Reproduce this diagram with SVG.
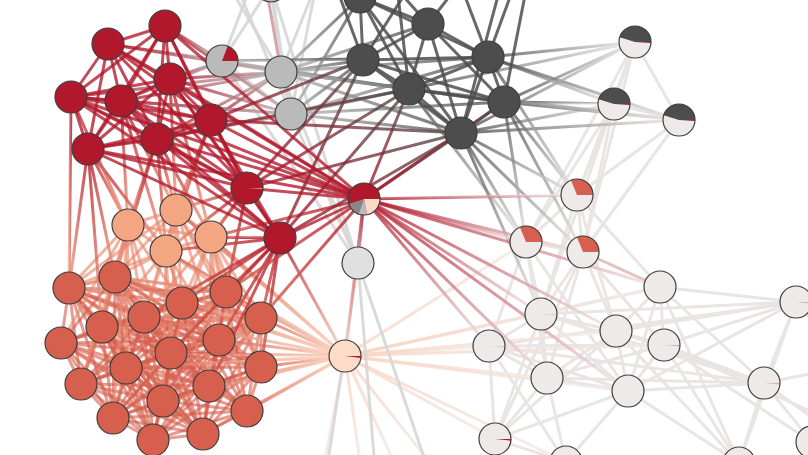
<svg xmlns="http://www.w3.org/2000/svg" xmlns:xlink="http://www.w3.org/1999/xlink" width="808" height="455" viewBox="0 0 808 455">
<style>
line{stroke-width:3;fill:none}
.rr{stroke:#b2182b;opacity:.78}
.cc{stroke:#d6604d;opacity:.62}
.ff{stroke:#ea8a70;opacity:.65}
.dd{stroke:#4d4d4d;opacity:.85}
.lg{stroke:#d6d6d6;opacity:.9}
.ww{stroke:#e9e5e4}
.pk{stroke:#e2c3c0}
.gx{opacity:.8}
.n{stroke:#3d3d3d;stroke-width:1.2}
.o{fill:none;stroke:#3d3d3d;stroke-width:1.2}
.red{fill:#b2182b}.cor{fill:#d6604d}.pea{fill:#f4a582}.lpe{fill:#fddbc7}
.lgr{fill:#e0e0e0}.gry{fill:#bababa}.drk{fill:#4d4d4d}.wht{fill:#eeeae9}
</style>
<defs>
<linearGradient id="rg"><stop offset="0" stop-color="#b2182b"/><stop offset="1" stop-color="#bababa"/></linearGradient>
<linearGradient id="rd"><stop offset="0" stop-color="#b2182b"/><stop offset="1" stop-color="#4d4d4d"/></linearGradient>
<linearGradient id="rw"><stop offset="0" stop-color="#b2182b"/><stop offset="1" stop-color="#efebea"/></linearGradient>
<linearGradient id="rp"><stop offset="0" stop-color="#b2182b"/><stop offset="1" stop-color="#fddbc7"/></linearGradient>
<linearGradient id="rc"><stop offset="0" stop-color="#b2182b"/><stop offset="1" stop-color="#d6604d"/></linearGradient>
<linearGradient id="fr"><stop offset="0" stop-color="#f4a582"/><stop offset="1" stop-color="#b2182b"/></linearGradient>
<linearGradient id="cl"><stop offset="0" stop-color="#d6604d"/><stop offset="1" stop-color="#fddbc7"/></linearGradient>
<linearGradient id="lw"><stop offset="0" stop-color="#fbd3bf"/><stop offset="1" stop-color="#efebea"/></linearGradient>
<linearGradient id="dw"><stop offset="0" stop-color="#4d4d4d"/><stop offset="1" stop-color="#efebea"/></linearGradient>
<linearGradient id="gd"><stop offset="0" stop-color="#bababa"/><stop offset="1" stop-color="#4d4d4d"/></linearGradient>
<linearGradient id="rga" xlink:href="#rg" x1="0" y1="0" x2="1" y2="1"/><linearGradient id="rgb" xlink:href="#rg" x1="0" y1="1" x2="1" y2="0"/><linearGradient id="rgc" xlink:href="#rg" x1="1" y1="0" x2="0" y2="1"/><linearGradient id="rgd" xlink:href="#rg" x1="1" y1="1" x2="0" y2="0"/>
<linearGradient id="rda" xlink:href="#rd" x1="0" y1="0" x2="1" y2="1"/><linearGradient id="rdb" xlink:href="#rd" x1="0" y1="1" x2="1" y2="0"/>
<linearGradient id="rwa" xlink:href="#rw" x1="0" y1="0" x2="1" y2="1"/><linearGradient id="rwb" xlink:href="#rw" x1="0" y1="1" x2="1" y2="0"/>
<linearGradient id="rpa" xlink:href="#rp" x1="0" y1="0" x2="1" y2="1"/><linearGradient id="rpc" xlink:href="#rp" x1="1" y1="0" x2="0" y2="1"/>
<linearGradient id="rcc" xlink:href="#rc" x1="1" y1="0" x2="0" y2="1"/><linearGradient id="rcd" xlink:href="#rc" x1="1" y1="1" x2="0" y2="0"/>
<linearGradient id="frb" xlink:href="#fr" x1="0" y1="1" x2="1" y2="0"/><linearGradient id="frd" xlink:href="#fr" x1="1" y1="1" x2="0" y2="0"/>
<linearGradient id="cla" xlink:href="#cl" x1="0" y1="0" x2="1" y2="1"/><linearGradient id="clb" xlink:href="#cl" x1="0" y1="1" x2="1" y2="0"/>
<linearGradient id="lwa" xlink:href="#lw" x1="0" y1="0" x2="1" y2="1"/><linearGradient id="lwb" xlink:href="#lw" x1="0" y1="1" x2="1" y2="0"/><linearGradient id="lwc" xlink:href="#lw" x1="1" y1="0" x2="0" y2="1"/>
<linearGradient id="dwa" xlink:href="#dw" x1="0" y1="0" x2="1" y2="1"/><linearGradient id="dwb" xlink:href="#dw" x1="0" y1="1" x2="1" y2="0"/>
<linearGradient id="gda" xlink:href="#gd" x1="0" y1="0" x2="1" y2="1"/><linearGradient id="gdb" xlink:href="#gd" x1="0" y1="1" x2="1" y2="0"/>
</defs>
<rect width="808" height="455" fill="#ffffff"/>
<g id="connectors">
<g id="e-white">
<line class="ww" x1="635" y1="42" x2="679" y2="120"/><line class="ww" x1="614" y1="104" x2="679" y2="120"/>
<line class="ww" x1="635" y1="42" x2="577" y2="195"/><line class="ww" x1="635" y1="42" x2="526" y2="242"/><line class="ww" x1="635" y1="42" x2="583" y2="252"/>
<line class="ww" x1="614" y1="104" x2="577" y2="195"/><line class="ww" x1="614" y1="104" x2="526" y2="242"/><line class="ww" x1="614" y1="104" x2="583" y2="252"/>
<line class="ww" x1="679" y1="120" x2="577" y2="195"/><line class="ww" x1="679" y1="120" x2="583" y2="252"/><line class="ww" x1="635" y1="42" x2="541" y2="314"/>
<line class="ww" x1="577" y1="195" x2="526" y2="242"/><line class="ww" x1="577" y1="195" x2="583" y2="252"/><line class="ww" x1="526" y1="242" x2="583" y2="252"/>
<line class="ww" x1="577" y1="195" x2="541" y2="314"/><line class="ww" x1="577" y1="195" x2="616" y2="331"/><line class="ww" x1="577" y1="195" x2="660" y2="287"/>
<line class="ww" x1="526" y1="242" x2="541" y2="314"/><line class="ww" x1="526" y1="242" x2="489" y2="346"/><line class="ww" x1="526" y1="242" x2="547" y2="378"/><line class="ww" x1="526" y1="242" x2="628" y2="391"/>
<line class="ww" x1="583" y1="252" x2="541" y2="314"/><line class="ww" x1="583" y1="252" x2="616" y2="331"/><line class="ww" x1="583" y1="252" x2="547" y2="378"/><line class="ww" x1="583" y1="252" x2="664" y2="345"/><line class="ww" x1="583" y1="252" x2="495" y2="439"/>
<line class="ww" x1="660" y1="287" x2="796" y2="302"/><line class="ww" x1="660" y1="287" x2="616" y2="331"/><line class="ww" x1="660" y1="287" x2="664" y2="345"/><line class="ww" x1="660" y1="287" x2="628" y2="391"/><line class="ww" x1="660" y1="287" x2="764" y2="383"/><line class="ww" x1="660" y1="287" x2="541" y2="314"/><line class="ww" x1="660" y1="287" x2="739" y2="463"/>
<line class="ww" x1="796" y1="302" x2="541" y2="314"/><line class="ww" x1="796" y1="302" x2="616" y2="331"/><line class="ww" x1="796" y1="302" x2="664" y2="345"/><line class="ww" x1="796" y1="302" x2="489" y2="346"/><line class="ww" x1="796" y1="302" x2="764" y2="383"/><line class="ww" x1="796" y1="302" x2="628" y2="391"/><line class="ww" x1="796" y1="302" x2="739" y2="463"/>
<line class="ww" x1="541" y1="314" x2="489" y2="346"/><line class="ww" x1="541" y1="314" x2="616" y2="331"/><line class="ww" x1="541" y1="314" x2="547" y2="378"/><line class="ww" x1="541" y1="314" x2="628" y2="391"/><line class="ww" x1="541" y1="314" x2="495" y2="439"/><line class="ww" x1="541" y1="314" x2="764" y2="383"/>
<line class="ww" x1="489" y1="346" x2="547" y2="378"/><line class="ww" x1="489" y1="346" x2="495" y2="439"/><line class="ww" x1="489" y1="346" x2="566" y2="462"/><line class="ww" x1="489" y1="346" x2="664" y2="345"/><line class="ww" x1="489" y1="346" x2="764" y2="383"/><line class="ww" x1="489" y1="346" x2="628" y2="391"/>
<line class="ww" x1="616" y1="331" x2="664" y2="345"/><line class="ww" x1="616" y1="331" x2="628" y2="391"/><line class="ww" x1="616" y1="331" x2="764" y2="383"/><line class="ww" x1="616" y1="331" x2="547" y2="378"/><line class="ww" x1="616" y1="331" x2="739" y2="463"/><line class="ww" x1="616" y1="331" x2="495" y2="439"/>
<line class="ww" x1="664" y1="345" x2="628" y2="391"/><line class="ww" x1="664" y1="345" x2="764" y2="383"/><line class="ww" x1="664" y1="345" x2="739" y2="463"/><line class="ww" x1="664" y1="345" x2="812" y2="442"/><line class="ww" x1="664" y1="345" x2="547" y2="378"/>
<line class="ww" x1="547" y1="378" x2="628" y2="391"/><line class="ww" x1="547" y1="378" x2="495" y2="439"/><line class="ww" x1="547" y1="378" x2="566" y2="462"/><line class="ww" x1="547" y1="378" x2="764" y2="383"/>
<line class="ww" x1="628" y1="391" x2="764" y2="383"/><line class="ww" x1="628" y1="391" x2="739" y2="463"/><line class="ww" x1="628" y1="391" x2="566" y2="462"/><line class="ww" x1="628" y1="391" x2="495" y2="439"/>
<line class="ww" x1="764" y1="383" x2="739" y2="463"/><line class="ww" x1="764" y1="383" x2="812" y2="442"/><line class="ww" x1="495" y1="439" x2="566" y2="462"/>
<line class="ww" x1="796" y1="302" x2="830" y2="285"/><line class="ww" x1="796" y1="302" x2="830" y2="340"/><line class="ww" x1="764" y1="383" x2="830" y2="370"/><line class="ww" x1="764" y1="383" x2="830" y2="430"/><line class="ww" x1="739" y1="463" x2="830" y2="480"/><line class="ww" x1="664" y1="345" x2="830" y2="420"/>
<line class="pk" x1="583" y1="252" x2="660" y2="287"/>
</g>
<g id="e-lightpeach">
<line class="gx" stroke="url(#lwb)" x1="345" y1="356" x2="489" y2="346"/><line class="gx" stroke="url(#lwb)" x1="345" y1="356" x2="541" y2="314"/><line class="gx" stroke="url(#lwa)" x1="345" y1="356" x2="547" y2="378"/>
<line class="gx" stroke="url(#lwa)" x1="345" y1="356" x2="495" y2="439"/><line class="gx" stroke="url(#lwb)" x1="345" y1="356" x2="616" y2="331"/><line class="gx" stroke="url(#lwb)" x1="345" y1="356" x2="526" y2="242"/>
<line class="gx" stroke="url(#lwb)" x1="345" y1="356" x2="660" y2="287"/><line class="gx" stroke="url(#lwa)" x1="345" y1="356" x2="628" y2="391"/><line class="gx" stroke="url(#lwb)" x1="345" y1="356" x2="664" y2="345"/>
<line class="gx" stroke="url(#lwa)" x1="345" y1="356" x2="566" y2="462"/><line class="gx" stroke="url(#lwc)" x1="345" y1="356" x2="322" y2="475"/><line class="gx" stroke="url(#lwa)" x1="345" y1="356" x2="362" y2="475"/>
<line class="gx" stroke="url(#lwa)" x1="345" y1="356" x2="400" y2="475"/><line class="gx" stroke="url(#lwa)" x1="345" y1="356" x2="440" y2="475"/>
</g>
<g id="e-lightgray">
<line class="lg" x1="222" y1="61" x2="255" y2="-25"/><line class="lg" x1="281" y1="72" x2="222" y2="-25"/><line class="lg" x1="291" y1="114" x2="232" y2="-25"/>
<line class="lg" x1="281" y1="72" x2="320" y2="-25"/><line class="lg" x1="291" y1="114" x2="318" y2="-25"/>
<line class="lg" x1="271" y1="-14" x2="281" y2="72"/><line class="lg" x1="271" y1="-14" x2="291" y2="114"/><line class="lg" x1="271" y1="-14" x2="222" y2="61"/>
<line class="lg" x1="281" y1="72" x2="291" y2="114"/><line class="lg" x1="281" y1="72" x2="222" y2="61"/><line class="lg" x1="291" y1="114" x2="222" y2="61"/>
<line class="lg" x1="358" y1="263" x2="281" y2="72"/><line class="lg" x1="358" y1="263" x2="291" y2="114"/><line class="lg" x1="358" y1="263" x2="222" y2="61"/><line class="lg" x1="358" y1="263" x2="271" y2="-14"/>
<line class="lg" x1="358" y1="263" x2="326" y2="475"/><line class="lg" x1="358" y1="263" x2="376" y2="480"/><line class="lg" x1="358" y1="263" x2="430" y2="475"/>
<line stroke="#d9a3aa" x1="279" y1="60" x2="264" y2="-25"/>
</g>
<g id="e-gray-dark">
<line class="gx" stroke="url(#gdb)" x1="281" y1="72" x2="363" y2="60"/><line class="gx" stroke="url(#gda)" x1="281" y1="72" x2="409" y2="89"/><line class="gx" stroke="url(#gdb)" x1="281" y1="72" x2="360" y2="-3"/>
<line class="gx" stroke="url(#gda)" x1="281" y1="72" x2="461" y2="133"/><line class="gx" stroke="url(#gdb)" x1="281" y1="72" x2="428" y2="24"/><line class="gx" stroke="url(#gdb)" x1="291" y1="114" x2="363" y2="60"/>
<line class="gx" stroke="url(#gdb)" x1="291" y1="114" x2="409" y2="89"/><line class="gx" stroke="url(#gda)" x1="291" y1="114" x2="461" y2="133"/><line class="gx" stroke="url(#gdb)" x1="291" y1="114" x2="504" y2="102"/>
<line class="gx" stroke="url(#gdb)" x1="291" y1="114" x2="488" y2="57"/><line class="gx" stroke="url(#gdb)" x1="222" y1="61" x2="363" y2="59"/><line class="gx" stroke="url(#gda)" x1="222" y1="61" x2="409" y2="89"/>
<line class="gx" stroke="url(#gdb)" x1="281" y1="72" x2="488" y2="57"/><line class="gx" stroke="url(#gdb)" x1="291" y1="114" x2="360" y2="-3"/><line class="gx" stroke="url(#gda)" x1="281" y1="72" x2="504" y2="102"/>
</g>
<g id="e-dark-white">
<line class="gx" stroke="url(#dwb)" x1="488" y1="57" x2="635" y2="42"/><line class="gx" stroke="url(#dwb)" x1="504" y1="102" x2="635" y2="42"/><line class="gx" stroke="url(#dwb)" x1="409" y1="89" x2="635" y2="42"/>
<line class="gx" stroke="url(#dwa)" x1="504" y1="102" x2="614" y2="104"/><line class="gx" stroke="url(#dwb)" x1="461" y1="133" x2="614" y2="104"/><line class="gx" stroke="url(#dwa)" x1="488" y1="57" x2="614" y2="104"/>
<line class="gx" stroke="url(#dwa)" x1="504" y1="102" x2="679" y2="120"/><line class="gx" stroke="url(#dwb)" x1="461" y1="133" x2="679" y2="120"/><line class="gx" stroke="url(#dwa)" x1="488" y1="57" x2="679" y2="120"/>
<line class="gx" stroke="url(#dwa)" x1="409" y1="89" x2="679" y2="120"/><line class="gx" stroke="url(#dwb)" x1="461" y1="133" x2="635" y2="42"/>
<line class="gx" stroke="url(#dwa)" x1="461" y1="133" x2="526" y2="242"/><line class="gx" stroke="url(#dwa)" x1="504" y1="102" x2="577" y2="195"/><line class="gx" stroke="url(#dwa)" x1="504" y1="102" x2="583" y2="252"/>
<line class="gx" stroke="url(#dwa)" x1="461" y1="133" x2="577" y2="195"/><line class="gx" stroke="url(#dwa)" x1="409" y1="89" x2="526" y2="242"/><line class="gx" stroke="url(#dwa)" x1="461" y1="133" x2="583" y2="252"/>
<line class="gx" stroke="url(#dwa)" x1="504" y1="102" x2="526" y2="242"/><line class="gx" stroke="url(#dwa)" x1="488" y1="57" x2="577" y2="195"/><line class="gx" stroke="url(#dwa)" x1="461" y1="133" x2="541" y2="314"/>
</g>
<g id="e-dark">
<line class="dd" x1="360" y1="-3" x2="428" y2="24"/><line class="dd" x1="360" y1="-3" x2="363" y2="60"/><line class="dd" x1="360" y1="-3" x2="409" y2="89"/><line class="dd" x1="360" y1="-3" x2="488" y2="57"/><line class="dd" x1="360" y1="-3" x2="461" y2="133"/>
<line class="dd" x1="428" y1="24" x2="363" y2="60"/><line class="dd" x1="428" y1="24" x2="488" y2="57"/><line class="dd" x1="428" y1="24" x2="409" y2="89"/><line class="dd" x1="428" y1="24" x2="504" y2="102"/><line class="dd" x1="428" y1="24" x2="461" y2="133"/>
<line class="dd" x1="363" y1="60" x2="488" y2="57"/><line class="dd" x1="363" y1="60" x2="409" y2="89"/><line class="dd" x1="363" y1="60" x2="461" y2="133"/><line class="dd" x1="363" y1="60" x2="504" y2="102"/>
<line class="dd" x1="488" y1="57" x2="409" y2="89"/><line class="dd" x1="488" y1="57" x2="504" y2="102"/><line class="dd" x1="488" y1="57" x2="461" y2="133"/>
<line class="dd" x1="409" y1="89" x2="504" y2="102"/><line class="dd" x1="409" y1="89" x2="461" y2="133"/><line class="dd" x1="504" y1="102" x2="461" y2="133"/>
<line class="dd" x1="360" y1="-3" x2="330" y2="-30"/><line class="dd" x1="360" y1="-3" x2="400" y2="-30"/><line class="dd" x1="428" y1="24" x2="470" y2="-30"/><line class="dd" x1="488" y1="57" x2="520" y2="-30"/>
<line class="dd" x1="363" y1="60" x2="420" y2="-30"/><line class="dd" x1="409" y1="89" x2="395" y2="-30"/><line class="dd" x1="488" y1="57" x2="455" y2="-30"/><line class="dd" x1="504" y1="102" x2="530" y2="-30"/>
<line class="dd" x1="461" y1="133" x2="505" y2="-30"/><line class="dd" x1="363" y1="60" x2="330" y2="-30"/><line class="dd" x1="428" y1="24" x2="380" y2="-30"/>
</g>
<g id="e-coral">
<line class="cc" x1="115" y1="277" x2="69" y2="288"/><line class="cc" x1="115" y1="277" x2="182" y2="303"/><line class="cc" x1="115" y1="277" x2="226" y2="292"/><line class="cc" x1="115" y1="277" x2="102" y2="327"/><line class="cc" x1="115" y1="277" x2="144" y2="317"/><line class="cc" x1="115" y1="277" x2="61" y2="343"/>
<line class="cc" x1="115" y1="277" x2="171" y2="353"/><line class="cc" x1="115" y1="277" x2="219" y2="340"/><line class="cc" x1="115" y1="277" x2="126" y2="368"/><line class="cc" x1="115" y1="277" x2="163" y2="401"/><line class="cc" x1="115" y1="277" x2="113" y2="418"/><line class="cc" x1="115" y1="277" x2="81" y2="384"/>
<line class="cc" x1="69" y1="288" x2="102" y2="327"/><line class="cc" x1="69" y1="288" x2="144" y2="317"/><line class="cc" x1="69" y1="288" x2="61" y2="343"/><line class="cc" x1="69" y1="288" x2="126" y2="368"/><line class="cc" x1="69" y1="288" x2="81" y2="384"/><line class="cc" x1="69" y1="288" x2="182" y2="303"/>
<line class="cc" x1="69" y1="288" x2="171" y2="353"/><line class="cc" x1="69" y1="288" x2="113" y2="418"/><line class="cc" x1="69" y1="288" x2="163" y2="401"/>
<line class="cc" x1="182" y1="303" x2="226" y2="292"/><line class="cc" x1="182" y1="303" x2="261" y2="318"/><line class="cc" x1="182" y1="303" x2="144" y2="317"/><line class="cc" x1="182" y1="303" x2="171" y2="353"/><line class="cc" x1="182" y1="303" x2="219" y2="340"/><line class="cc" x1="182" y1="303" x2="126" y2="368"/>
<line class="cc" x1="182" y1="303" x2="261" y2="367"/><line class="cc" x1="182" y1="303" x2="163" y2="401"/><line class="cc" x1="182" y1="303" x2="209" y2="386"/><line class="cc" x1="182" y1="303" x2="102" y2="327"/><line class="cc" x1="182" y1="303" x2="203" y2="434"/>
<line class="cc" x1="226" y1="292" x2="261" y2="318"/><line class="cc" x1="226" y1="292" x2="144" y2="317"/><line class="cc" x1="226" y1="292" x2="171" y2="353"/><line class="cc" x1="226" y1="292" x2="219" y2="340"/><line class="cc" x1="226" y1="292" x2="261" y2="367"/><line class="cc" x1="226" y1="292" x2="209" y2="386"/>
<line class="cc" x1="226" y1="292" x2="247" y2="411"/><line class="cc" x1="226" y1="292" x2="163" y2="401"/>
<line class="cc" x1="261" y1="318" x2="171" y2="353"/><line class="cc" x1="261" y1="318" x2="219" y2="340"/><line class="cc" x1="261" y1="318" x2="261" y2="367"/><line class="cc" x1="261" y1="318" x2="209" y2="386"/><line class="cc" x1="261" y1="318" x2="247" y2="411"/><line class="cc" x1="261" y1="318" x2="203" y2="434"/><line class="cc" x1="261" y1="318" x2="126" y2="368"/>
<line class="cc" x1="102" y1="327" x2="144" y2="317"/><line class="cc" x1="102" y1="327" x2="61" y2="343"/><line class="cc" x1="102" y1="327" x2="171" y2="353"/><line class="cc" x1="102" y1="327" x2="126" y2="368"/><line class="cc" x1="102" y1="327" x2="81" y2="384"/><line class="cc" x1="102" y1="327" x2="163" y2="401"/>
<line class="cc" x1="102" y1="327" x2="113" y2="418"/><line class="cc" x1="102" y1="327" x2="153" y2="440"/>
<line class="cc" x1="144" y1="317" x2="61" y2="343"/><line class="cc" x1="144" y1="317" x2="171" y2="353"/><line class="cc" x1="144" y1="317" x2="219" y2="340"/><line class="cc" x1="144" y1="317" x2="126" y2="368"/><line class="cc" x1="144" y1="317" x2="81" y2="384"/><line class="cc" x1="144" y1="317" x2="163" y2="401"/>
<line class="cc" x1="144" y1="317" x2="209" y2="386"/><line class="cc" x1="144" y1="317" x2="113" y2="418"/>
<line class="cc" x1="61" y1="343" x2="126" y2="368"/><line class="cc" x1="61" y1="343" x2="81" y2="384"/><line class="cc" x1="61" y1="343" x2="113" y2="418"/><line class="cc" x1="61" y1="343" x2="163" y2="401"/><line class="cc" x1="61" y1="343" x2="153" y2="440"/>
<line class="cc" x1="171" y1="353" x2="219" y2="340"/><line class="cc" x1="171" y1="353" x2="126" y2="368"/><line class="cc" x1="171" y1="353" x2="261" y2="367"/><line class="cc" x1="171" y1="353" x2="163" y2="401"/><line class="cc" x1="171" y1="353" x2="209" y2="386"/><line class="cc" x1="171" y1="353" x2="247" y2="411"/>
<line class="cc" x1="171" y1="353" x2="113" y2="418"/><line class="cc" x1="171" y1="353" x2="153" y2="440"/><line class="cc" x1="171" y1="353" x2="203" y2="434"/>
<line class="cc" x1="219" y1="340" x2="261" y2="367"/><line class="cc" x1="219" y1="340" x2="163" y2="401"/><line class="cc" x1="219" y1="340" x2="209" y2="386"/><line class="cc" x1="219" y1="340" x2="247" y2="411"/><line class="cc" x1="219" y1="340" x2="203" y2="434"/><line class="cc" x1="219" y1="340" x2="153" y2="440"/>
<line class="cc" x1="126" y1="368" x2="81" y2="384"/><line class="cc" x1="126" y1="368" x2="163" y2="401"/><line class="cc" x1="126" y1="368" x2="113" y2="418"/><line class="cc" x1="126" y1="368" x2="153" y2="440"/><line class="cc" x1="126" y1="368" x2="203" y2="434"/><line class="cc" x1="126" y1="368" x2="209" y2="386"/>
<line class="cc" x1="261" y1="367" x2="209" y2="386"/><line class="cc" x1="261" y1="367" x2="247" y2="411"/><line class="cc" x1="261" y1="367" x2="203" y2="434"/><line class="cc" x1="261" y1="367" x2="163" y2="401"/>
<line class="cc" x1="81" y1="384" x2="113" y2="418"/><line class="cc" x1="81" y1="384" x2="153" y2="440"/><line class="cc" x1="81" y1="384" x2="163" y2="401"/>
<line class="cc" x1="163" y1="401" x2="209" y2="386"/><line class="cc" x1="163" y1="401" x2="113" y2="418"/><line class="cc" x1="163" y1="401" x2="153" y2="440"/><line class="cc" x1="163" y1="401" x2="203" y2="434"/><line class="cc" x1="163" y1="401" x2="247" y2="411"/>
<line class="cc" x1="209" y1="386" x2="247" y2="411"/><line class="cc" x1="209" y1="386" x2="153" y2="440"/><line class="cc" x1="209" y1="386" x2="203" y2="434"/>
<line class="cc" x1="247" y1="411" x2="203" y2="434"/><line class="cc" x1="247" y1="411" x2="153" y2="440"/><line class="cc" x1="113" y1="418" x2="153" y2="440"/><line class="cc" x1="113" y1="418" x2="203" y2="434"/><line class="cc" x1="153" y1="440" x2="203" y2="434"/>
<line class="cc" x1="115" y1="277" x2="261" y2="318"/><line class="cc" x1="115" y1="277" x2="261" y2="367"/><line class="cc" x1="115" y1="277" x2="209" y2="386"/><line class="cc" x1="115" y1="277" x2="247" y2="411"/><line class="cc" x1="115" y1="277" x2="153" y2="440"/><line class="cc" x1="115" y1="277" x2="203" y2="434"/>
<line class="cc" x1="69" y1="288" x2="226" y2="292"/><line class="cc" x1="69" y1="288" x2="219" y2="340"/><line class="cc" x1="69" y1="288" x2="261" y2="367"/><line class="cc" x1="69" y1="288" x2="209" y2="386"/><line class="cc" x1="69" y1="288" x2="153" y2="440"/><line class="cc" x1="69" y1="288" x2="203" y2="434"/>
<line class="cc" x1="182" y1="303" x2="61" y2="343"/><line class="cc" x1="182" y1="303" x2="81" y2="384"/><line class="cc" x1="182" y1="303" x2="247" y2="411"/><line class="cc" x1="182" y1="303" x2="113" y2="418"/><line class="cc" x1="182" y1="303" x2="153" y2="440"/>
<line class="cc" x1="226" y1="292" x2="102" y2="327"/><line class="cc" x1="226" y1="292" x2="126" y2="368"/><line class="cc" x1="226" y1="292" x2="81" y2="384"/><line class="cc" x1="226" y1="292" x2="113" y2="418"/><line class="cc" x1="226" y1="292" x2="203" y2="434"/>
<line class="cc" x1="261" y1="318" x2="144" y2="317"/><line class="cc" x1="261" y1="318" x2="163" y2="401"/><line class="cc" x1="261" y1="318" x2="113" y2="418"/><line class="cc" x1="261" y1="318" x2="153" y2="440"/><line class="cc" x1="261" y1="318" x2="102" y2="327"/>
<line class="cc" x1="102" y1="327" x2="219" y2="340"/><line class="cc" x1="102" y1="327" x2="209" y2="386"/><line class="cc" x1="102" y1="327" x2="203" y2="434"/><line class="cc" x1="102" y1="327" x2="261" y2="367"/>
<line class="cc" x1="144" y1="317" x2="261" y2="367"/><line class="cc" x1="144" y1="317" x2="247" y2="411"/><line class="cc" x1="144" y1="317" x2="153" y2="440"/><line class="cc" x1="144" y1="317" x2="203" y2="434"/>
<line class="cc" x1="61" y1="343" x2="171" y2="353"/><line class="cc" x1="61" y1="343" x2="219" y2="340"/><line class="cc" x1="61" y1="343" x2="209" y2="386"/><line class="cc" x1="61" y1="343" x2="203" y2="434"/>
<line class="cc" x1="171" y1="353" x2="81" y2="384"/><line class="cc" x1="219" y1="340" x2="126" y2="368"/><line class="cc" x1="219" y1="340" x2="81" y2="384"/><line class="cc" x1="219" y1="340" x2="113" y2="418"/>
<line class="cc" x1="126" y1="368" x2="261" y2="367"/><line class="cc" x1="126" y1="368" x2="247" y2="411"/><line class="cc" x1="261" y1="367" x2="113" y2="418"/><line class="cc" x1="261" y1="367" x2="153" y2="440"/>
<line class="cc" x1="81" y1="384" x2="203" y2="434"/><line class="cc" x1="81" y1="384" x2="209" y2="386"/><line class="cc" x1="113" y1="418" x2="247" y2="411"/>
</g>
<g id="e-peach">
<line class="ff" x1="128" y1="225" x2="115" y2="277"/><line class="ff" x1="128" y1="225" x2="69" y2="288"/><line class="ff" x1="128" y1="225" x2="144" y2="317"/><line class="ff" x1="128" y1="225" x2="102" y2="327"/><line class="ff" x1="128" y1="225" x2="182" y2="303"/><line class="ff" x1="128" y1="225" x2="171" y2="353"/><line class="ff" x1="128" y1="225" x2="61" y2="343"/><line class="ff" x1="128" y1="225" x2="126" y2="368"/>
<line class="ff" x1="176" y1="210" x2="115" y2="277"/><line class="ff" x1="176" y1="210" x2="182" y2="303"/><line class="ff" x1="176" y1="210" x2="226" y2="292"/><line class="ff" x1="176" y1="210" x2="144" y2="317"/><line class="ff" x1="176" y1="210" x2="171" y2="353"/><line class="ff" x1="176" y1="210" x2="69" y2="288"/><line class="ff" x1="176" y1="210" x2="219" y2="340"/>
<line class="ff" x1="166" y1="251" x2="115" y2="277"/><line class="ff" x1="166" y1="251" x2="182" y2="303"/><line class="ff" x1="166" y1="251" x2="226" y2="292"/><line class="ff" x1="166" y1="251" x2="144" y2="317"/><line class="ff" x1="166" y1="251" x2="171" y2="353"/><line class="ff" x1="166" y1="251" x2="219" y2="340"/><line class="ff" x1="166" y1="251" x2="102" y2="327"/><line class="ff" x1="166" y1="251" x2="163" y2="401"/><line class="ff" x1="166" y1="251" x2="69" y2="288"/>
<line class="ff" x1="211" y1="237" x2="182" y2="303"/><line class="ff" x1="211" y1="237" x2="226" y2="292"/><line class="ff" x1="211" y1="237" x2="261" y2="318"/><line class="ff" x1="211" y1="237" x2="219" y2="340"/><line class="ff" x1="211" y1="237" x2="171" y2="353"/><line class="ff" x1="211" y1="237" x2="261" y2="367"/><line class="ff" x1="211" y1="237" x2="144" y2="317"/>
<line class="ff" x1="128" y1="225" x2="81" y2="384"/><line class="ff" x1="128" y1="225" x2="113" y2="418"/><line class="ff" x1="176" y1="210" x2="261" y2="367"/><line class="ff" x1="166" y1="251" x2="209" y2="386"/><line class="ff" x1="211" y1="237" x2="209" y2="386"/><line class="ff" x1="211" y1="237" x2="247" y2="411"/>
<line class="ff" x1="128" y1="225" x2="176" y2="210"/><line class="ff" x1="128" y1="225" x2="166" y2="251"/><line class="ff" x1="176" y1="210" x2="166" y2="251"/><line class="ff" x1="176" y1="210" x2="211" y2="237"/><line class="ff" x1="166" y1="251" x2="211" y2="237"/><line class="ff" x1="128" y1="225" x2="211" y2="237"/>
</g>
<g id="e-coral-lightpeach">
<line class="gx" stroke="url(#cla)" x1="261" y1="318" x2="345" y2="356"/><line class="gx" stroke="url(#cla)" x1="226" y1="292" x2="345" y2="356"/><line class="gx" stroke="url(#cla)" x1="219" y1="340" x2="345" y2="356"/>
<line class="gx" stroke="url(#clb)" x1="261" y1="367" x2="345" y2="356"/><line class="gx" stroke="url(#clb)" x1="209" y1="386" x2="345" y2="356"/><line class="gx" stroke="url(#clb)" x1="247" y1="411" x2="345" y2="356"/>
<line class="gx" stroke="url(#cla)" x1="182" y1="303" x2="345" y2="356"/><line class="gx" stroke="url(#cla)" x1="171" y1="353" x2="345" y2="356"/><line class="gx" stroke="url(#clb)" x1="203" y1="434" x2="345" y2="356"/>
<line class="gx" stroke="url(#clb)" x1="163" y1="401" x2="345" y2="356"/><line class="gx" stroke="url(#cla)" x1="144" y1="317" x2="345" y2="356"/><line class="gx" stroke="url(#cla)" x1="211" y1="237" x2="345" y2="356"/>
<line class="gx" stroke="url(#cla)" x1="166" y1="251" x2="345" y2="356"/><line class="gx" stroke="url(#cla)" x1="176" y1="210" x2="345" y2="356"/><line class="gx" stroke="url(#clb)" x1="126" y1="368" x2="345" y2="356"/><line class="gx" stroke="url(#cla)" x1="115" y1="277" x2="345" y2="356"/>
</g>
<g id="e-red-coral">
<line class="gx" stroke="url(#rcc)" x1="280" y1="238" x2="226" y2="292"/><line class="gx" stroke="url(#rcc)" x1="280" y1="238" x2="261" y2="318"/><line class="gx" stroke="url(#rcc)" x1="280" y1="238" x2="182" y2="303"/>
<line class="gx" stroke="url(#rcc)" x1="280" y1="238" x2="219" y2="340"/><line class="gx" stroke="url(#rcc)" x1="280" y1="238" x2="261" y2="367"/><line class="gx" stroke="url(#rcc)" x1="280" y1="238" x2="171" y2="353"/>
<line class="gx" stroke="url(#rcd)" x1="280" y1="238" x2="211" y2="237"/><line class="gx" stroke="url(#rcc)" x1="280" y1="238" x2="209" y2="386"/><line class="gx" stroke="url(#rcc)" x1="280" y1="238" x2="166" y2="251"/>
<line class="gx" stroke="url(#rcc)" x1="280" y1="238" x2="144" y2="317"/><line class="gx" stroke="url(#rcc)" x1="247" y1="188" x2="226" y2="292"/><line class="gx" stroke="url(#rcc)" x1="247" y1="188" x2="211" y2="237"/>
<line class="gx" stroke="url(#rcc)" x1="364" y1="199" x2="211" y2="237"/><line class="gx" stroke="url(#rcc)" x1="364" y1="199" x2="261" y2="318"/><line class="gx" stroke="url(#rcc)" x1="364" y1="199" x2="226" y2="292"/>
<line class="gx" stroke="url(#rpa)" x1="280" y1="238" x2="345" y2="356"/><line class="gx" stroke="url(#rpc)" x1="364" y1="199" x2="345" y2="356"/>
</g>
<g id="e-peach-red">
<line class="gx" stroke="url(#frd)" x1="128" y1="225" x2="88" y2="149"/><line class="gx" stroke="url(#frb)" x1="128" y1="225" x2="157" y2="139"/><line class="gx" stroke="url(#frd)" x1="128" y1="225" x2="121" y2="101"/>
<line class="gx" stroke="url(#frd)" x1="176" y1="210" x2="157" y2="139"/><line class="gx" stroke="url(#frb)" x1="176" y1="210" x2="211" y2="120"/><line class="gx" stroke="url(#frd)" x1="176" y1="210" x2="121" y2="101"/>
<line class="gx" stroke="url(#frb)" x1="176" y1="210" x2="247" y2="188"/><line class="gx" stroke="url(#frd)" x1="166" y1="251" x2="88" y2="149"/><line class="gx" stroke="url(#frd)" x1="166" y1="251" x2="157" y2="139"/>
<line class="gx" stroke="url(#frb)" x1="166" y1="251" x2="247" y2="188"/><line class="gx" stroke="url(#frd)" x1="211" y1="237" x2="157" y2="139"/><line class="gx" stroke="url(#frb)" x1="211" y1="237" x2="247" y2="188"/>
<line class="gx" stroke="url(#frd)" x1="211" y1="237" x2="170" y2="79"/><line class="gx" stroke="url(#frd)" x1="128" y1="225" x2="71" y2="97"/><line class="gx" stroke="url(#frd)" x1="166" y1="251" x2="121" y2="101"/>
<line class="gx" stroke="url(#frd)" x1="176" y1="210" x2="170" y2="79"/><line class="gx" stroke="url(#frb)" x1="69" y1="288" x2="88" y2="149"/><line class="gx" stroke="url(#frd)" x1="115" y1="277" x2="88" y2="149"/>
<line class="gx" stroke="url(#frb)" x1="69" y1="288" x2="71" y2="97"/><line class="gx" stroke="url(#frd)" x1="102" y1="327" x2="88" y2="149"/><line class="gx" stroke="url(#frb)" x1="115" y1="277" x2="157" y2="139"/>
<line class="gx" stroke="url(#frb)" x1="166" y1="251" x2="211" y2="120"/>
</g>
<g id="e-red-gray">
<line class="gx" stroke="url(#rga)" x1="108" y1="44" x2="281" y2="72"/><line class="gx" stroke="url(#rgb)" x1="71" y1="97" x2="281" y2="72"/><line class="gx" stroke="url(#rga)" x1="121" y1="101" x2="291" y2="114"/>
<line class="gx" stroke="url(#rgb)" x1="170" y1="79" x2="281" y2="72"/><line class="gx" stroke="url(#rga)" x1="170" y1="79" x2="291" y2="114"/><line class="gx" stroke="url(#rga)" x1="165" y1="26" x2="291" y2="114"/>
<line class="gx" stroke="url(#rgb)" x1="88" y1="149" x2="291" y2="114"/><line class="gx" stroke="url(#rgb)" x1="211" y1="120" x2="281" y2="72"/><line class="gx" stroke="url(#rgb)" x1="121" y1="101" x2="281" y2="72"/>
<line class="gx" stroke="url(#rga)" x1="71" y1="97" x2="291" y2="114"/><line class="gx" stroke="url(#rga)" x1="108" y1="44" x2="222" y2="61"/><line class="gx" stroke="url(#rga)" x1="165" y1="26" x2="222" y2="61"/>
<line class="gx" stroke="url(#rgb)" x1="170" y1="79" x2="222" y2="61"/><line class="gx" stroke="url(#rgb)" x1="121" y1="101" x2="222" y2="61"/><line class="gx" stroke="url(#rgc)" x1="364" y1="199" x2="358" y2="263"/>
<line class="gx" stroke="url(#rgb)" x1="157" y1="139" x2="291" y2="114"/><line class="gx" stroke="url(#rgb)" x1="157" y1="139" x2="281" y2="72"/>
</g>
<g id="e-red-dark">
<line class="gx" stroke="url(#rdb)" x1="247" y1="188" x2="409" y2="89"/><line class="gx" stroke="url(#rdb)" x1="247" y1="188" x2="363" y2="60"/><line class="gx" stroke="url(#rdb)" x1="280" y1="238" x2="461" y2="133"/>
<line class="gx" stroke="url(#rdb)" x1="280" y1="238" x2="409" y2="89"/><line class="gx" stroke="url(#rdb)" x1="364" y1="199" x2="461" y2="133"/><line class="gx" stroke="url(#rdb)" x1="364" y1="199" x2="409" y2="89"/>
<line class="gx" stroke="url(#rdb)" x1="211" y1="120" x2="363" y2="60"/><line class="gx" stroke="url(#rda)" x1="211" y1="120" x2="461" y2="133"/><line class="gx" stroke="url(#rdb)" x1="247" y1="188" x2="461" y2="133"/>
<line class="gx" stroke="url(#rdb)" x1="364" y1="199" x2="504" y2="102"/><line class="gx" stroke="url(#rdb)" x1="280" y1="238" x2="363" y2="60"/><line class="gx" stroke="url(#rdb)" x1="157" y1="139" x2="409" y2="89"/>
</g>
<g id="e-red-white">
<line class="gx" stroke="url(#rwb)" x1="364" y1="199" x2="577" y2="195"/><line class="gx" stroke="url(#rwa)" x1="364" y1="199" x2="526" y2="242"/><line class="gx" stroke="url(#rwa)" x1="364" y1="199" x2="583" y2="252"/>
<line class="gx" stroke="url(#rwa)" x1="364" y1="199" x2="541" y2="314"/><line class="gx" stroke="url(#rwa)" x1="364" y1="199" x2="616" y2="331"/><line class="gx" stroke="url(#rwa)" x1="364" y1="199" x2="628" y2="391"/>
<line class="gx" stroke="url(#rwa)" x1="364" y1="199" x2="547" y2="378"/><line class="gx" stroke="url(#rwa)" x1="364" y1="199" x2="489" y2="346"/><line class="gx" stroke="url(#rwa)" x1="364" y1="199" x2="660" y2="287"/>
</g>
<g id="e-red">
<line class="rr" x1="108" y1="44" x2="165" y2="26"/><line class="rr" x1="108" y1="44" x2="71" y2="97"/><line class="rr" x1="108" y1="44" x2="121" y2="101"/><line class="rr" x1="108" y1="44" x2="170" y2="79"/><line class="rr" x1="108" y1="44" x2="211" y2="120"/><line class="rr" x1="108" y1="44" x2="88" y2="149"/><line class="rr" x1="108" y1="44" x2="157" y2="139"/>
<line class="rr" x1="165" y1="26" x2="71" y2="97"/><line class="rr" x1="165" y1="26" x2="121" y2="101"/><line class="rr" x1="165" y1="26" x2="170" y2="79"/><line class="rr" x1="165" y1="26" x2="211" y2="120"/><line class="rr" x1="165" y1="26" x2="88" y2="149"/><line class="rr" x1="165" y1="26" x2="157" y2="139"/>
<line class="rr" x1="71" y1="97" x2="121" y2="101"/><line class="rr" x1="71" y1="97" x2="170" y2="79"/><line class="rr" x1="71" y1="97" x2="211" y2="120"/><line class="rr" x1="71" y1="97" x2="88" y2="149"/><line class="rr" x1="71" y1="97" x2="157" y2="139"/>
<line class="rr" x1="121" y1="101" x2="170" y2="79"/><line class="rr" x1="121" y1="101" x2="211" y2="120"/><line class="rr" x1="121" y1="101" x2="88" y2="149"/><line class="rr" x1="121" y1="101" x2="157" y2="139"/>
<line class="rr" x1="170" y1="79" x2="211" y2="120"/><line class="rr" x1="170" y1="79" x2="88" y2="149"/><line class="rr" x1="170" y1="79" x2="157" y2="139"/><line class="rr" x1="211" y1="120" x2="88" y2="149"/><line class="rr" x1="211" y1="120" x2="157" y2="139"/><line class="rr" x1="88" y1="149" x2="157" y2="139"/>
<line class="rr" x1="247" y1="188" x2="108" y2="44"/><line class="rr" x1="247" y1="188" x2="165" y2="26"/><line class="rr" x1="247" y1="188" x2="71" y2="97"/><line class="rr" x1="247" y1="188" x2="121" y2="101"/><line class="rr" x1="247" y1="188" x2="170" y2="79"/><line class="rr" x1="247" y1="188" x2="211" y2="120"/><line class="rr" x1="247" y1="188" x2="88" y2="149"/><line class="rr" x1="247" y1="188" x2="157" y2="139"/>
<line class="rr" x1="280" y1="238" x2="71" y2="97"/><line class="rr" x1="280" y1="238" x2="121" y2="101"/><line class="rr" x1="280" y1="238" x2="211" y2="120"/><line class="rr" x1="280" y1="238" x2="88" y2="149"/><line class="rr" x1="280" y1="238" x2="157" y2="139"/><line class="rr" x1="280" y1="238" x2="247" y2="188"/><line class="rr" x1="280" y1="238" x2="170" y2="79"/>
<line class="rr" x1="364" y1="199" x2="108" y2="44"/><line class="rr" x1="364" y1="199" x2="165" y2="26"/><line class="rr" x1="364" y1="199" x2="71" y2="97"/><line class="rr" x1="364" y1="199" x2="121" y2="101"/><line class="rr" x1="364" y1="199" x2="170" y2="79"/>
<line class="rr" x1="364" y1="199" x2="211" y2="120"/><line class="rr" x1="364" y1="199" x2="88" y2="149"/><line class="rr" x1="364" y1="199" x2="157" y2="139"/><line class="rr" x1="364" y1="199" x2="247" y2="188"/><line class="rr" x1="364" y1="199" x2="280" y2="238"/>
</g>
</g>
<g id="nodes">
<g id="n-g0"><circle class="n gry" cx="271" cy="-14" r="16"/></g>
<g id="n-d1"><circle class="n drk" cx="360" cy="-3" r="16"/></g>
<g id="n-d2"><circle class="n drk" cx="428" cy="24" r="16"/></g>
<g id="n-d3"><circle class="n drk" cx="363" cy="60" r="16"/></g>
<g id="n-d4"><circle class="n drk" cx="488" cy="57" r="16"/></g>
<g id="n-d5"><circle class="n drk" cx="409" cy="89" r="16"/></g>
<g id="n-d6"><circle class="n drk" cx="504" cy="102" r="16"/></g>
<g id="n-d7"><circle class="n drk" cx="461" cy="133" r="16"/></g>
<g id="n-g1"><circle class="n gry" cx="281" cy="72" r="16"/></g>
<g id="n-g2"><circle class="n gry" cx="291" cy="114" r="16"/></g>
<g id="n-p1"><circle class="gry" cx="222" cy="61" r="16"/><path class="red" d="M222,61 L238,61 A16,16 0 0 0 227.7,46.1 Z"/><circle class="o" cx="222" cy="61" r="16"/></g>
<g id="n-r1"><circle class="n red" cx="108" cy="44" r="16"/></g>
<g id="n-r2"><circle class="n red" cx="165" cy="26" r="16"/></g>
<g id="n-r3"><circle class="n red" cx="71" cy="97" r="16"/></g>
<g id="n-r4"><circle class="n red" cx="121" cy="101" r="16"/></g>
<g id="n-r5"><circle class="n red" cx="170" cy="79" r="16"/></g>
<g id="n-r6"><circle class="n red" cx="211" cy="120" r="16"/></g>
<g id="n-r7"><circle class="n red" cx="88" cy="149" r="16"/></g>
<g id="n-r8"><circle class="n red" cx="157" cy="139" r="16"/></g>
<g id="n-r9"><circle class="red" cx="247" cy="188" r="16"/><path class="pea" d="M247,188 L263,188 A16,16 0 0 1 262.96,189.1 Z"/><circle class="o" cx="247" cy="188" r="16"/></g>
<g id="n-r10"><circle class="n red" cx="280" cy="238" r="16"/></g>
<g id="n-m"><circle class="red" cx="364" cy="199" r="16"/><path fill="#878787" d="M364,199 L348.8,203.9 A16,16 0 0 0 358.5,214 Z"/><path class="gry" d="M364,199 L358.5,214 A16,16 0 0 0 367.3,214.65 Z"/><path class="lpe" d="M364,199 L367.3,214.65 A16,16 0 0 0 380,199 Z"/><circle class="o" cx="364" cy="199" r="16"/></g>
<g id="n-lg"><circle class="n lgr" cx="358" cy="263" r="16"/></g>
<g id="n-f1"><circle class="n pea" cx="128" cy="225" r="16"/></g>
<g id="n-f2"><circle class="n pea" cx="176" cy="210" r="16"/></g>
<g id="n-f3"><circle class="n pea" cx="166" cy="251" r="16"/></g>
<g id="n-f4"><circle class="n pea" cx="211" cy="237" r="16"/></g>
<g id="n-c1"><circle class="n cor" cx="115" cy="277" r="16"/></g>
<g id="n-c2"><circle class="n cor" cx="69" cy="288" r="16"/></g>
<g id="n-c3"><circle class="n cor" cx="182" cy="303" r="16"/></g>
<g id="n-c4"><circle class="n cor" cx="226" cy="292" r="16"/></g>
<g id="n-c5"><circle class="n cor" cx="261" cy="318" r="16"/></g>
<g id="n-c6"><circle class="n cor" cx="102" cy="327" r="16"/></g>
<g id="n-c7"><circle class="n cor" cx="144" cy="317" r="16"/></g>
<g id="n-c8"><circle class="n cor" cx="61" cy="343" r="16"/></g>
<g id="n-c9"><circle class="n cor" cx="171" cy="353" r="16"/></g>
<g id="n-c10"><circle class="n cor" cx="219" cy="340" r="16"/></g>
<g id="n-c11"><circle class="n cor" cx="126" cy="368" r="16"/></g>
<g id="n-c12"><circle class="n cor" cx="261" cy="367" r="16"/></g>
<g id="n-c13"><circle class="n cor" cx="81" cy="384" r="16"/></g>
<g id="n-c14"><circle class="n cor" cx="163" cy="401" r="16"/></g>
<g id="n-c15"><circle class="n cor" cx="209" cy="386" r="16"/></g>
<g id="n-c16"><circle class="n cor" cx="247" cy="411" r="16"/></g>
<g id="n-c17"><circle class="n cor" cx="113" cy="418" r="16"/></g>
<g id="n-c18"><circle class="n cor" cx="153" cy="440" r="16"/></g>
<g id="n-c19"><circle class="n cor" cx="203" cy="434" r="16"/></g>
<g id="n-lp"><circle class="lpe" cx="345" cy="356" r="16"/><path class="red" d="M345,356 L361,356 A16,16 0 0 1 360.88,357.95 Z"/><circle class="o" cx="345" cy="356" r="16"/></g>
<g id="n-k1"><circle class="wht" cx="635" cy="42" r="16"/><path class="drk" d="M635,42 L651,42 A16,16 0 0 0 619.7,37.3 Z"/><path class="red" d="M635,42 L651,42 A16,16 0 0 1 650.96,43.1 Z"/><circle class="o" cx="635" cy="42" r="16"/></g>
<g id="n-k2"><circle class="wht" cx="614" cy="104" r="16"/><path class="drk" d="M614,104 L630,104 A16,16 0 0 0 598.7,99.3 Z"/><path class="red" d="M614,104 L630,104 A16,16 0 0 1 629.96,105.1 Z"/><circle class="o" cx="614" cy="104" r="16"/></g>
<g id="n-k3"><circle class="wht" cx="679" cy="120" r="16"/><path class="drk" d="M679,120 L695,120 A16,16 0 0 0 663.7,115.3 Z"/><path class="red" d="M679,120 L695,120 A16,16 0 0 1 694.96,121.1 Z"/><circle class="o" cx="679" cy="120" r="16"/></g>
<g id="n-q1"><circle class="wht" cx="577" cy="195" r="16"/><path class="cor" d="M577,195 L593,195 A16,16 0 0 0 571,180.2 Z"/><circle class="o" cx="577" cy="195" r="16"/></g>
<g id="n-q2"><circle class="wht" cx="526" cy="242" r="16"/><path class="cor" d="M526,242 L542,242 A16,16 0 0 0 520,227.2 Z"/><circle class="o" cx="526" cy="242" r="16"/></g>
<g id="n-q3"><circle class="wht" cx="583" cy="252" r="16"/><path class="cor" d="M583,252 L599,252 A16,16 0 0 0 577,237.2 Z"/><circle class="o" cx="583" cy="252" r="16"/></g>
<g id="n-w1"><circle class="n wht" cx="660" cy="287" r="16"/></g>
<g id="n-w2"><circle class="wht" cx="796" cy="302" r="16"/><path fill="#d9b0b0" d="M796,302 L812,302 A16,16 0 0 1 811.9,303.5 Z"/><circle class="o" cx="796" cy="302" r="16"/></g>
<g id="n-w3"><circle class="wht" cx="541" cy="314" r="16"/><path fill="#dcd0ce" d="M541,314 L557,314 A16,16 0 0 1 556.9,315.5 Z"/><circle class="o" cx="541" cy="314" r="16"/></g>
<g id="n-w4"><circle class="wht" cx="489" cy="346" r="16"/><path fill="#dcd0ce" d="M489,346 L505,346 A16,16 0 0 1 504.9,347.5 Z"/><circle class="o" cx="489" cy="346" r="16"/></g>
<g id="n-w5"><circle class="n wht" cx="616" cy="331" r="16"/></g>
<g id="n-w6"><circle class="wht" cx="664" cy="345" r="16"/><path fill="#d9b0b0" d="M664,345 L680,345 A16,16 0 0 1 679.9,346.5 Z"/><circle class="o" cx="664" cy="345" r="16"/></g>
<g id="n-w7"><circle class="n wht" cx="547" cy="378" r="16"/></g>
<g id="n-w8"><circle class="n wht" cx="628" cy="391" r="16"/></g>
<g id="n-w9"><circle class="wht" cx="764" cy="383" r="16"/><path fill="#d9b0b0" d="M764,383 L780,383 A16,16 0 0 1 779.9,384.5 Z"/><circle class="o" cx="764" cy="383" r="16"/></g>
<g id="n-w10"><circle class="wht" cx="495" cy="439" r="16"/><path class="red" d="M495,439 L511,439 A16,16 0 0 1 510.9,440.7 Z"/><circle class="o" cx="495" cy="439" r="16"/></g>
<g id="n-w11"><circle class="n wht" cx="566" cy="462" r="16"/></g>
<g id="n-w12"><circle class="n wht" cx="739" cy="463" r="16"/></g>
<g id="n-w13"><circle class="n wht" cx="812" cy="442" r="16"/></g>
</g>
</svg>
